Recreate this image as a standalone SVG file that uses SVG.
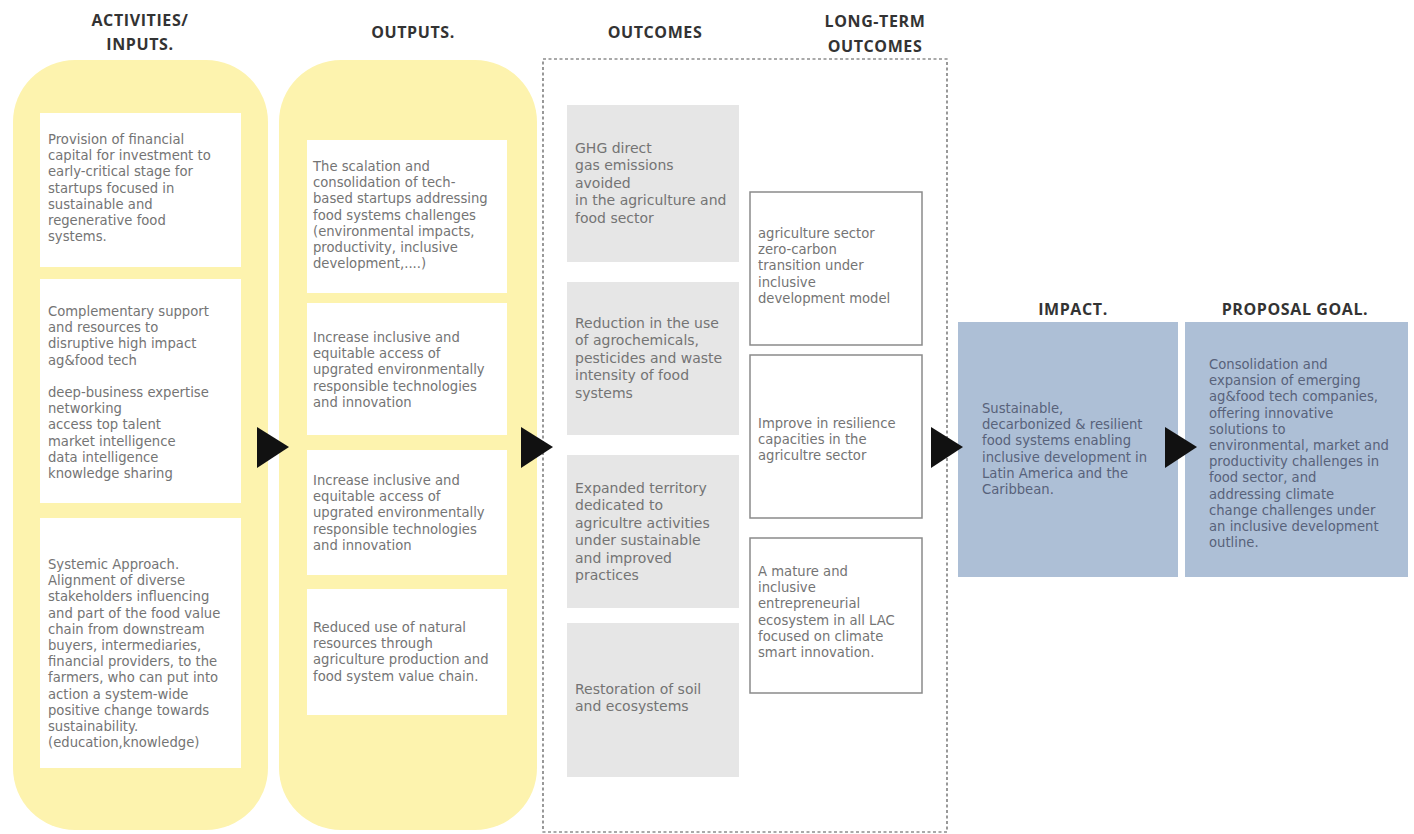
<svg xmlns="http://www.w3.org/2000/svg" width="1414" height="834" viewBox="0 0 1414 834">
<style>
.title{font-family:"Open Sans","DejaVu Sans",sans-serif;font-weight:700;font-size:16px;letter-spacing:0.6px;fill:#333;text-anchor:middle}
.col{fill:#fdf3ae}
.wbox{fill:#ffffff}
.gbox{fill:#e6e6e6}
.lbox{fill:#ffffff;stroke:#8a8a8a;stroke-width:1.5}
.bbox{fill:#adbfd6}
.t{font-family:"DejaVu Sans",sans-serif;font-size:13.2px;fill:#747474}
.to{font-family:"DejaVu Sans",sans-serif;font-size:14px;fill:#747474}
.tb{font-family:"DejaVu Sans",sans-serif;font-size:13.2px;fill:#58627a}
.arrow{fill:#111}
</style>
<rect width="1414" height="834" fill="#ffffff"/>

<g id="titles">
<text class="title" x="140" y="26">ACTIVITIES/</text>
<text class="title" x="140" y="50">INPUTS.</text>
<text class="title" x="413" y="38">OUTPUTS.</text>
<text class="title" x="655" y="38">OUTCOMES</text>
<text class="title" x="875" y="27">LONG-TERM</text>
<text class="title" x="875" y="52">OUTCOMES</text>
<text class="title" x="1073" y="315">IMPACT.</text>
<text class="title" x="1295" y="315">PROPOSAL GOAL.</text>
</g>

<g id="activities">
<rect class="col" x="13" y="60" width="255" height="770" rx="62"/>
<g id="act1">
<rect class="wbox" x="40" y="113" width="201" height="154"/>
<text class="t" x="48" y="144"><tspan x="48">Provision of financial</tspan><tspan x="48" dy="16.2">capital for investment to</tspan><tspan x="48" dy="16.2">early-critical stage for</tspan><tspan x="48" dy="16.2">startups focused in</tspan><tspan x="48" dy="16.2">sustainable and</tspan><tspan x="48" dy="16.2">regenerative food</tspan><tspan x="48" dy="16.2">systems.</tspan></text>
</g>
<g id="act2">
<rect class="wbox" x="40" y="279" width="201" height="224"/>
<text class="t" x="48" y="316"><tspan x="48">Complementary support</tspan><tspan x="48" dy="16.2">and resources to</tspan><tspan x="48" dy="16.2">disruptive high impact</tspan><tspan x="48" dy="16.2">ag&amp;food tech</tspan><tspan x="48" dy="32.4">deep-business expertise</tspan><tspan x="48" dy="16.2">networking</tspan><tspan x="48" dy="16.2">access top talent</tspan><tspan x="48" dy="16.2">market intelligence</tspan><tspan x="48" dy="16.2">data intelligence</tspan><tspan x="48" dy="16.2">knowledge sharing</tspan></text>
</g>
<g id="act3">
<rect class="wbox" x="40" y="518" width="201" height="250"/>
<text class="t" x="48" y="569"><tspan x="48">Systemic Approach.</tspan><tspan x="48" dy="16.2">Alignment of diverse</tspan><tspan x="48" dy="16.2">stakeholders influencing</tspan><tspan x="48" dy="16.2">and part of the food value</tspan><tspan x="48" dy="16.2">chain from downstream</tspan><tspan x="48" dy="16.2">buyers, intermediaries,</tspan><tspan x="48" dy="16.2">financial providers, to the</tspan><tspan x="48" dy="16.2">farmers, who can put into</tspan><tspan x="48" dy="16.2">action a system-wide</tspan><tspan x="48" dy="16.2">positive change towards</tspan><tspan x="48" dy="16.2">sustainability.</tspan><tspan x="48" dy="16.2">(education,knowledge)</tspan></text>
</g>
</g>

<g id="outputs">
<rect class="col" x="279" y="60" width="258" height="770" rx="62"/>
<g id="out1">
<rect class="wbox" x="307" y="140" width="200" height="153"/>
<text class="t" x="313" y="171"><tspan x="313">The scalation and</tspan><tspan x="313" dy="16.2">consolidation of tech-</tspan><tspan x="313" dy="16.2">based startups addressing</tspan><tspan x="313" dy="16.2">food systems challenges</tspan><tspan x="313" dy="16.2">(environmental impacts,</tspan><tspan x="313" dy="16.2">productivity, inclusive</tspan><tspan x="313" dy="16.2">development,....)</tspan></text>
</g>
<g id="out2">
<rect class="wbox" x="307" y="303" width="200" height="132"/>
<text class="t" x="313" y="342"><tspan x="313">Increase inclusive and</tspan><tspan x="313" dy="16.2">equitable access of</tspan><tspan x="313" dy="16.2">upgrated environmentally</tspan><tspan x="313" dy="16.2">responsible  technologies</tspan><tspan x="313" dy="16.2">and innovation</tspan></text>
</g>
<g id="out3">
<rect class="wbox" x="307" y="450" width="200" height="125"/>
<text class="t" x="313" y="485"><tspan x="313">Increase inclusive and</tspan><tspan x="313" dy="16.2">equitable access of</tspan><tspan x="313" dy="16.2">upgrated environmentally</tspan><tspan x="313" dy="16.2">responsible  technologies</tspan><tspan x="313" dy="16.2">and innovation</tspan></text>
</g>
<g id="out4">
<rect class="wbox" x="307" y="589" width="200" height="126"/>
<text class="t" x="313" y="632"><tspan x="313">Reduced use of natural</tspan><tspan x="313" dy="16.2">resources through</tspan><tspan x="313" dy="16.2">agriculture production and</tspan><tspan x="313" dy="16.2">food system value chain.</tspan></text>
</g>
</g>

<g id="outcomes-frame">
<rect x="543" y="59" width="404" height="773" fill="none" stroke="#555" stroke-width="1.2" stroke-dasharray="3 2.5"/>
</g>

<g id="outcomes">
<g id="oc1">
<rect class="gbox" x="567" y="105" width="172" height="157"/>
<text class="to" x="575" y="153"><tspan x="575">GHG direct</tspan><tspan x="575" dy="17.4">gas emissions</tspan><tspan x="575" dy="17.4">avoided</tspan><tspan x="575" dy="17.4">in the agriculture and</tspan><tspan x="575" dy="17.4">food sector</tspan></text>
</g>
<g id="oc2">
<rect class="gbox" x="567" y="282" width="172" height="153"/>
<text class="to" x="575" y="328"><tspan x="575">Reduction in the use</tspan><tspan x="575" dy="17.4">of agrochemicals,</tspan><tspan x="575" dy="17.4">pesticides and waste</tspan><tspan x="575" dy="17.4">intensity of food</tspan><tspan x="575" dy="17.4">systems</tspan></text>
</g>
<g id="oc3">
<rect class="gbox" x="567" y="455" width="172" height="153"/>
<text class="to" x="575" y="493"><tspan x="575">Expanded territory</tspan><tspan x="575" dy="17.4">dedicated to</tspan><tspan x="575" dy="17.4">agricultre activities</tspan><tspan x="575" dy="17.4">under sustainable</tspan><tspan x="575" dy="17.4">and improved</tspan><tspan x="575" dy="17.4">practices</tspan></text>
</g>
<g id="oc4">
<rect class="gbox" x="567" y="623" width="172" height="154"/>
<text class="to" x="575" y="694"><tspan x="575">Restoration of soil</tspan><tspan x="575" dy="17.4">and ecosystems</tspan></text>
</g>
</g>

<g id="long-term">
<g id="lt1">
<rect class="lbox" x="750" y="192" width="172" height="153"/>
<text class="t" x="758" y="238"><tspan x="758">agriculture sector</tspan><tspan x="758" dy="16.2">zero-carbon</tspan><tspan x="758" dy="16.2">transition under</tspan><tspan x="758" dy="16.2">inclusive</tspan><tspan x="758" dy="16.2">development model</tspan></text>
</g>
<g id="lt2">
<rect class="lbox" x="750" y="355" width="172" height="163"/>
<text class="t" x="758" y="428"><tspan x="758">Improve in resilience</tspan><tspan x="758" dy="16.2">capacities in the</tspan><tspan x="758" dy="16.2">agricultre sector</tspan></text>
</g>
<g id="lt3">
<rect class="lbox" x="750" y="538" width="172" height="155"/>
<text class="t" x="758" y="576"><tspan x="758">A mature and</tspan><tspan x="758" dy="16.2">inclusive</tspan><tspan x="758" dy="16.2">entrepreneurial</tspan><tspan x="758" dy="16.2">ecosystem in all LAC</tspan><tspan x="758" dy="16.2">focused on climate</tspan><tspan x="758" dy="16.2">smart innovation.</tspan></text>
</g>
</g>

<g id="impact">
<rect class="bbox" x="958" y="322" width="220" height="255"/>
<text class="tb" x="982" y="413"><tspan x="982">Sustainable,</tspan><tspan x="982" dy="16.2">decarbonized &amp; resilient</tspan><tspan x="982" dy="16.2">food systems enabling</tspan><tspan x="982" dy="16.2">inclusive development in</tspan><tspan x="982" dy="16.2">Latin America and the</tspan><tspan x="982" dy="16.2">Caribbean.</tspan></text>
</g>

<g id="proposal-goal">
<rect class="bbox" x="1185" y="322" width="223" height="255"/>
<text class="tb" x="1209" y="369"><tspan x="1209">Consolidation and</tspan><tspan x="1209" dy="16.2">expansion of emerging</tspan><tspan x="1209" dy="16.2">ag&amp;food tech companies,</tspan><tspan x="1209" dy="16.2">offering innovative</tspan><tspan x="1209" dy="16.2">solutions to</tspan><tspan x="1209" dy="16.2">environmental, market and</tspan><tspan x="1209" dy="16.2">productivity challenges in</tspan><tspan x="1209" dy="16.2">food sector, and</tspan><tspan x="1209" dy="16.2">addressing climate</tspan><tspan x="1209" dy="16.2">change challenges under</tspan><tspan x="1209" dy="16.2">an inclusive development</tspan><tspan x="1209" dy="16.2">outline.</tspan></text>
</g>

<g id="connectors">
<polygon class="arrow" points="257,427 289,447 257,468"/>
<polygon class="arrow" points="521,427 553,447 521,468"/>
<polygon class="arrow" points="931,427 963,447 931,468"/>
<polygon class="arrow" points="1165,427 1197,447 1165,468"/>
</g>
</svg>
